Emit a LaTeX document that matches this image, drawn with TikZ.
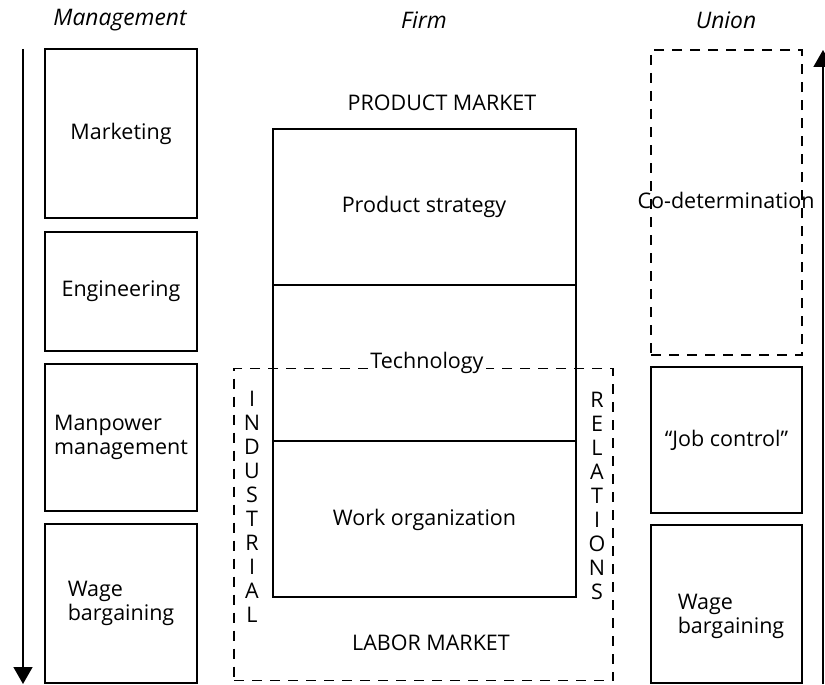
\documentclass[tikz,border=0pt]{standalone}
\usepackage{fontspec}
\setmainfont{Open Sans}
\usetikzlibrary{arrows.meta}
\newcommand\myfs{\fontsize{21.5}{24}\selectfont}
\newcommand\myhfs{\fontsize{22.8}{26}\selectfont}
\tikzset{
  box/.style={draw, line width=1.6pt, inner sep=0pt},
  dbox/.style={draw, line width=1.6pt, dash pattern=on 10pt off 8pt, inner sep=0pt},
  txt/.style={inner sep=1pt, font=\myfs, align=left},
  head/.style={inner sep=1pt, font=\myhfs\itshape},
  vert/.style={inner sep=0pt, font=\myfs, align=center},
  axis/.style={line width=1.6pt, -{Triangle[width=19pt,length=17pt]}},
}
\begin{document}
\begin{tikzpicture}[x=1pt,y=-1pt]
\useasboundingbox (0,0) rectangle (825,685);

% headings
\node[head] (hm) at (120,20) {Management};
\node[head] (hf) at (424,20) {Firm};
\node[head] (hu) at (726,20) {Union};

% left column (management)
\node[box, font=\myfs, minimum width=152pt, minimum height=169pt] (mkt) at (121,133.5) {Marketing};
\node[box, font=\myfs, minimum width=152pt, minimum height=119pt] (eng) at (121,291.5) {Engineering};
\node[box, font=\myfs, align=left, minimum width=152pt, minimum height=147pt] (man) at (121,437.5) {Manpower\\management};
\node[box, font=\myfs, align=left, minimum width=152pt, minimum height=159pt] (wgl) at (121,603.5) {Wage\\bargaining};

% right column (union)
\node[dbox, minimum width=151pt, minimum height=305pt] (cod) at (726.5,202.5) {};
\node[txt] (codt) at (726,200) {Co-determination};
\node[box, font=\myfs, minimum width=151pt, minimum height=146pt] (job) at (726.5,440) {“Job control”};
\node[box, minimum width=151pt, minimum height=158pt] (wgr) at (726.5,604) {};
\node[txt] (wgrt) at (731,616.5) {Wage\\bargaining};

% firm column
\node[box, minimum width=303pt, minimum height=156pt] (ps) at (424.5,207) {};
\node[box, minimum width=303pt, minimum height=156pt] (tech) at (424.5,363) {};
\node[box, minimum width=303pt, minimum height=156pt] (wo) at (424.5,519) {};
\node[txt] (pst) at (424,207) {Product strategy};
\node[txt] (wot) at (424.5,520) {Work organization};
\node[txt] (pm) at (442,103) {PRODUCT MARKET};
\node[txt] (lm) at (431,643) {LABOR MARKET};

% industrial relations
\node[dbox, minimum width=379pt, minimum height=312pt] (ir) at (423.5,524.5) {};
\node[txt, fill=white, inner xsep=2pt, inner ysep=1pt] (techt) at (427,363) {Technology};
\node[vert] (ind) at (252,507) {I\\N\\D\\U\\S\\T\\R\\I\\A\\L};
\node[vert] (rel) at (597,496) {R\\E\\L\\A\\T\\I\\O\\N\\S};

% arrows
\coordinate (la) at (23,49);
\coordinate (lb) at (23,684);
\coordinate (ra) at (823,684);
\coordinate (rb) at (823,50);
\draw[axis] (la) -- (lb);
\draw[axis] (ra) -- (rb);
\end{tikzpicture}
\end{document}
